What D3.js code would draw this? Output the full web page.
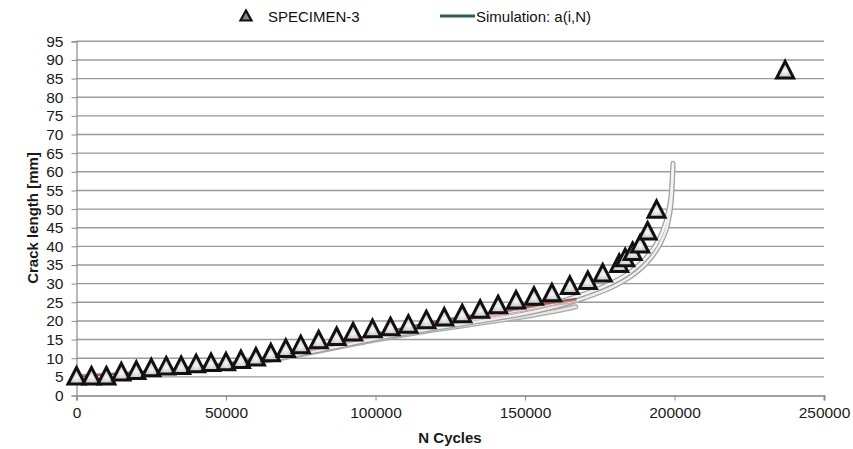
<!DOCTYPE html>
<html><head><meta charset="utf-8">
<script src="https://cdn.jsdelivr.net/npm/d3@7"></script>
<style>
html,body{margin:0;padding:0;background:#fff;}
text{font-family:"Liberation Sans",Arial,sans-serif;}
</style></head>
<body>
<svg id="chart" width="853" height="449"></svg>
<script>
// ---- Data ----
const specN = [0,5000,10000,15000,20000,25000,30000,35000,40000,45000,50000,55000,60000,65000,70000,75000,81000,87000,92500,99000,105000,111000,117000,123000,129000,135000,141000,147000,153000,159000,165000,171000,176000,181500,183500,186000,188500,191000,194000,237000];
const specA = [5.1,5.1,5.1,6.2,6.6,7.3,7.8,7.9,8.4,8.7,8.9,9.5,10.2,11.3,12.5,13.5,14.8,15.7,16.9,17.8,18.3,19.0,20.2,20.9,21.8,23.0,24.2,25.5,26.5,27.4,29.4,30.7,32.7,35.3,36.8,38.5,40.5,44.0,49.8,87.2];

const simLongN = [0,10000,20000,30000,40000,50000,60000,70000,80000,90000,100000,110000,120000,130000,140000,150000,160000,170000,180000,185000,190000,193000,196000,198000,199000,199500];
const simLongA1 = [5.0,5.4,6.0,6.6,7.3,8.2,9.3,10.8,12.4,14.1,15.8,17.4,18.8,20.1,21.4,22.9,24.8,27.3,30.6,33.0,36.5,39.5,44.0,49.5,55.0,62.3];
const simLongA2 = [5.0,5.3,5.8,6.4,7.1,8.0,9.0,10.4,11.9,13.6,15.2,16.7,18.0,19.3,20.6,22.0,23.8,26.2,29.4,31.7,35.0,37.8,42.0,47.0,53.0,61.0];

const simShortN = [0,10000,20000,30000,40000,50000,60000,70000,80000,90000,100000,110000,120000,130000,140000,150000,160000,167000];
const simShortGray = [5.0,5.3,5.8,6.4,7.1,7.9,8.9,10.2,11.7,13.3,14.9,16.3,17.6,18.8,20.0,21.2,22.6,23.8];
const simShortRed = [5.0,5.6,6.2,6.9,7.7,8.6,9.8,11.3,13.0,14.8,16.6,18.3,19.8,21.1,22.3,23.6,25.0,25.8];
const simShortGreen = [5.0,5.5,6.1,6.8,7.6,8.5,9.6,11.1,12.8,14.6,16.4,18.1,19.6,20.9,22.1,23.4,24.8,25.5];
const simShortBlue = [5.0,5.6,6.2,6.8,7.6,8.6,9.7,11.2,12.9,14.7,16.5,18.2,19.9,21.3,22.5,23.8,25.2,26.0];
const simShortPink = [5.0,5.5,6.0,6.6,7.3,8.2,9.3,10.7,12.3,14.0,15.8,17.4,18.9,20.2,21.4,22.7,24.2,25.0];

const xTicks = [0,50000,100000,150000,200000,250000];
const yTicks = [0,5,10,15,20,25,30,35,40,45,50,55,60,65,70,75,80,85,90,95];

// ---- Layout ----
const svg = d3.select("#chart");
const x = d3.scaleLinear().domain([0,250000]).range([76.5,824]);
const y = d3.scaleLinear().domain([0,95]).range([395.5,41.3]);

// defs
const defs = svg.append("defs");
const rg = defs.append("radialGradient").attr("id","triFill").attr("cx","50%").attr("cy","60%").attr("r","60%");
rg.append("stop").attr("offset","0%").attr("stop-color","#f8f8f8");
rg.append("stop").attr("offset","100%").attr("stop-color","#b0b0b0");

// gridlines
svg.append("g").selectAll("line").data(yTicks.filter(d=>d>0)).join("line")
  .attr("x1",x(0)).attr("x2",x(250000))
  .attr("y1",d=>y(d)).attr("y2",d=>y(d))
  .attr("stroke","#9a9a9a").attr("stroke-width",1.4);

// axes
const yAxis = d3.axisLeft(y).tickValues(yTicks).tickSize(5).tickPadding(8).tickFormat(d3.format("d"));
const gy = svg.append("g").attr("transform",`translate(${x(0)},0)`).call(yAxis);
gy.select(".domain").attr("stroke","#8a8a8a").attr("stroke-width",1.2);
gy.selectAll(".tick line").attr("stroke","#8a8a8a");
gy.selectAll(".tick text").attr("font-size",15.5).attr("fill","#1a1a1a").attr("font-family","Liberation Sans, Arial, sans-serif");

const xAxis = d3.axisBottom(x).tickValues(xTicks).tickSize(5).tickPadding(6).tickFormat(d3.format("d"));
const gx = svg.append("g").attr("transform",`translate(0,${y(0)})`).call(xAxis);
gx.select(".domain").attr("stroke","#a0a0a0").attr("stroke-width",2.2);
gx.selectAll(".tick line").attr("stroke","#8a8a8a");
gx.selectAll(".tick text").attr("font-size",15.5).attr("fill","#1a1a1a").attr("font-family","Liberation Sans, Arial, sans-serif");

// axis titles
svg.append("text").attr("x",450).attr("y",443).attr("text-anchor","middle")
  .attr("font-size",15).attr("font-weight","bold").attr("fill","#1a1a1a").text("N Cycles");
svg.append("text").attr("transform","translate(38,218) rotate(-90)").attr("text-anchor","middle")
  .attr("font-size",15).attr("font-weight","bold").attr("fill","#1a1a1a").text("Crack length [mm]");

// simulation lines
const line = d3.line().x(d=>x(d[0])).y(d=>y(d[1])).curve(d3.curveMonotoneX);
const gs = svg.append("g").attr("fill","none").attr("stroke-linejoin","round").attr("stroke-linecap","round");
function drawSim(N, A, color, w){
  gs.append("path").datum(N.map((n,i)=>[n,A[i]])).attr("d",line).attr("stroke",color).attr("stroke-width",w);
}
drawSim(simShortN, simShortGray, "#a8a8a8", 5);
drawSim(simShortN, simShortGray, "#e6e6e6", 2.5);
drawSim(simLongN, simLongA2, "#a0a0a0", 5);
drawSim(simLongN, simLongA1, "#a0a0a0", 5);
drawSim(simLongN, simLongA2, "#eeeeee", 2.5);
drawSim(simLongN, simLongA1, "#f4f4f4", 2.5);
drawSim(simShortN, simShortPink, "#e2a0b0", 1.5);
drawSim(simShortN, simShortGreen, "#7fbf7f", 1.5);
drawSim(simShortN, simShortBlue, "#5a64c8", 1.5);
drawSim(simShortN, simShortRed, "#d04848", 1.5);

// specimen triangles
const tri = "M0,-9 L8.5,7.5 L-8.5,7.5 Z";
svg.append("g").selectAll("path").data(specN.map((n,i)=>[n,specA[i]])).join("path")
  .attr("d",tri).attr("transform",d=>`translate(${x(d[0])},${y(d[1])})`)
  .attr("fill","url(#triFill)").attr("stroke","#111").attr("stroke-width",3).attr("stroke-linejoin","miter");

// legend
const lg = svg.append("g");
lg.append("path").attr("d","M0,-5.5 L5.5,4.5 L-5.5,4.5 Z").attr("transform","translate(246,16)")
  .attr("fill","#888").attr("stroke","#111").attr("stroke-width",2.2);
lg.append("text").attr("x",268).attr("y",21.5).attr("font-size",15).attr("fill","#111").text("SPECIMEN-3");
lg.append("line").attr("x1",440).attr("x2",475).attr("y1",16).attr("y2",16).attr("stroke","#2e5b5b").attr("stroke-width",3);
lg.append("text").attr("x",476).attr("y",21.5).attr("font-size",15).attr("fill","#111").text("Simulation: a(i,N)");
</script>
</body></html>
